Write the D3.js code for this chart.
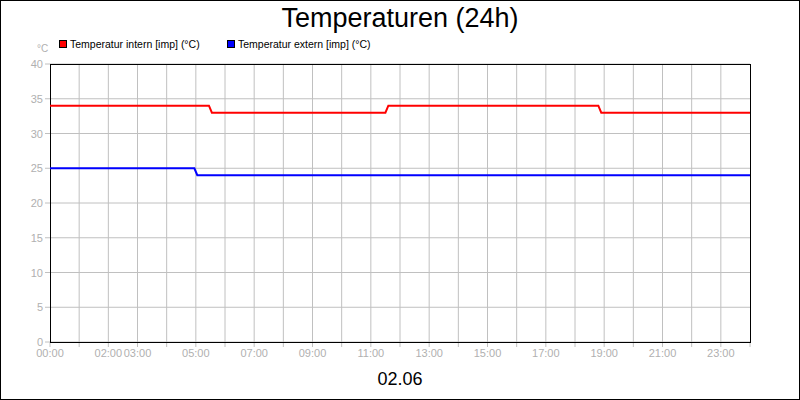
<!DOCTYPE html><html><head><meta charset="utf-8"><script src="https://cdn.jsdelivr.net/npm/d3@7"></script>
<style>body{margin:0}svg{font-family:"Liberation Sans",Arial,sans-serif}</style></head><body><svg width="800" height="400"></svg>
<script>
const internHours=[0,5.45,5.55,11.5,11.6,18.8,18.9,24];
const internValues=[34,34,33,33,34,34,33,33];
const externHours=[0,4.95,5.05,24];
const externValues=[25,25,24,24];
const yTicks=[0,5,10,15,20,25,30,35,40];
const xLabelHours=[0,2,3,5,7,9,11,13,15,17,19,21,23];
const svg=d3.select("svg");
svg.append("rect").attr("x",0.5).attr("y",0.5).attr("width",799).attr("height",399).attr("fill","#fff").attr("stroke","#000");
const x=d3.scaleLinear().domain([0,24]).range([50,750]);
const y=d3.scaleLinear().domain([0,40]).range([342,64]);
const g=svg.append("g");
d3.range(1,24).forEach(h=>g.append("line").attr("x1",x(h)).attr("x2",x(h)).attr("y1",64).attr("y2",347).attr("stroke","#c0c0c0"));
yTicks.forEach(v=>{g.append("line").attr("x1",45).attr("x2",750).attr("y1",y(v)).attr("y2",y(v)).attr("stroke","#c0c0c0");
 g.append("text").attr("x",43).attr("y",y(v)+4).attr("text-anchor","end").attr("font-size",11).attr("fill","#b0b0b0").text(v);});
g.append("line").attr("x1",750).attr("x2",750).attr("y1",342).attr("y2",347).attr("stroke","#c0c0c0");
g.append("line").attr("x1",50).attr("x2",50).attr("y1",342).attr("y2",347).attr("stroke","#c0c0c0");
xLabelHours.forEach(h=>g.append("text").attr("x",x(h)).attr("y",357).attr("text-anchor","middle").attr("font-size",11).attr("fill","#b0b0b0").text(String(h).padStart(2,"0")+":00"));
g.append("rect").attr("x",50.5).attr("y",64.5).attr("width",700).attr("height",278).attr("fill","none").attr("stroke","#000");
const line=d3.line().x(d=>x(d[0])).y(d=>y(d[1]));
g.append("path").attr("d",line(internHours.map((h,i)=>[h,internValues[i]]))).attr("fill","none").attr("stroke","#ff0000").attr("stroke-width",2);
g.append("path").attr("d",line(externHours.map((h,i)=>[h,externValues[i]]))).attr("fill","none").attr("stroke","#0000ff").attr("stroke-width",2);
svg.append("text").attr("x",400).attr("y",27).attr("text-anchor","middle").attr("font-size",27).text("Temperaturen (24h)");
svg.append("text").attr("x",400).attr("y",385).attr("text-anchor","middle").attr("font-size",18).text("02.06");
svg.append("text").attr("x",37).attr("y",52).attr("font-size",10).attr("fill","#b0b0b0").text("°C");
[["Temperatur intern [imp] (°C)","#ff0000",59],["Temperatur extern [imp] (°C)","#0000ff",227]].forEach(([t,c,lx])=>{
 svg.append("rect").attr("x",lx+0.5).attr("y",40.5).attr("width",7).attr("height",7).attr("fill",c).attr("stroke","#000");
 svg.append("text").attr("x",lx+11).attr("y",48).attr("font-size",10.5).text(t);});
</script></body></html>
